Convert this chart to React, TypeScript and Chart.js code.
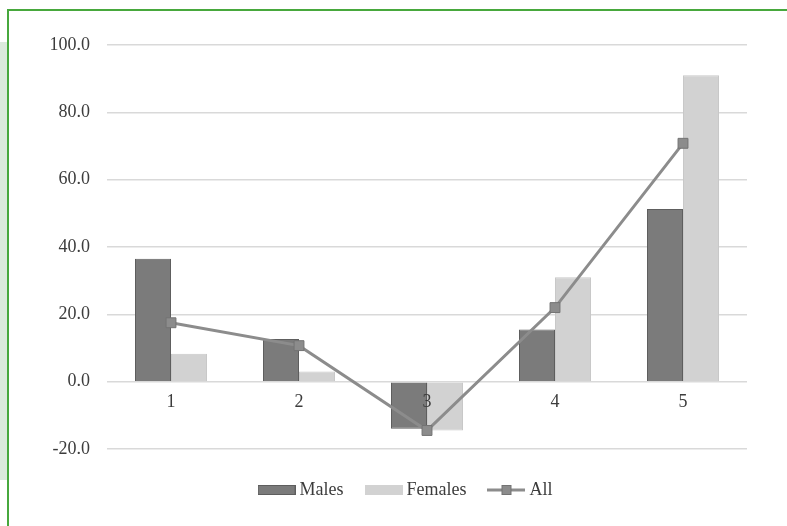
import React, { useEffect, useRef } from "react";
import { Chart, registerables } from "chart.js";

Chart.register(...registerables);

const categories = ["1", "2", "3", "4", "5"];
const males = [36.5, 12.7, -14.0, 15.5, 51.3];
const females = [8.3, 3.0, -14.5, 31.0, 91.0];
const allValues = [17.5, 10.7, -14.5, 22.0, 70.8];
const seriesNames = ["Males", "Females", "All"];
const yMin = -20;
const yMax = 100;
const yStep = 20;

const MALE_COLOR = "#7b7b7b";
const MALE_BORDER = "#5e5e5e";
const FEMALE_COLOR = "#d2d2d2";
const LINE_COLOR = "#8c8c8c";
const MARKER_BORDER = "#737373";
const FONT = "'Liberation Serif', 'Times New Roman', serif";

function makeLegendImage(kind: string): HTMLCanvasElement {
  const c = document.createElement("canvas");
  c.width = 38;
  c.height = 12;
  const g = c.getContext("2d")!;
  if (kind === "male") {
    g.fillStyle = MALE_COLOR;
    g.fillRect(0, 1, 38, 10);
    g.strokeStyle = MALE_BORDER;
    g.lineWidth = 1;
    g.strokeRect(0.5, 1.5, 37, 9);
  } else if (kind === "female") {
    g.fillStyle = FEMALE_COLOR;
    g.fillRect(0, 1, 38, 10);
  } else {
    g.strokeStyle = LINE_COLOR;
    g.lineWidth = 3;
    g.beginPath();
    g.moveTo(0, 6);
    g.lineTo(38, 6);
    g.stroke();
    g.fillStyle = LINE_COLOR;
    g.fillRect(14.5, 1.5, 9, 9);
    g.strokeStyle = MARKER_BORDER;
    g.lineWidth = 1;
    g.strokeRect(14.5, 1.5, 9, 9);
  }
  return c;
}

export default function App() {
  const ref = useRef<HTMLCanvasElement>(null);

  useEffect(() => {
    if (!ref.current) return;
    const imgs = [makeLegendImage("male"), makeLegendImage("female"), makeLegendImage("all")];
    const chart = new Chart(ref.current, {
      type: "bar",
      data: {
        labels: categories,
        datasets: [
          {
            type: "bar",
            label: seriesNames[0],
            data: males,
            backgroundColor: MALE_COLOR,
            borderColor: MALE_BORDER,
            borderWidth: 1,
            order: 1,
          },
          {
            type: "bar",
            label: seriesNames[1],
            data: females,
            backgroundColor: FEMALE_COLOR,
            borderColor: "#c8c8c8",
            borderWidth: 1,
            order: 1,
          },
          {
            type: "line",
            label: seriesNames[2],
            data: allValues,
            borderColor: LINE_COLOR,
            backgroundColor: LINE_COLOR,
            borderWidth: 3,
            pointStyle: "rect",
            pointRadius: 7,
            pointBorderWidth: 1,
            pointBorderColor: MARKER_BORDER,
            pointBackgroundColor: LINE_COLOR,
            tension: 0,
            order: 0,
          } as any,
        ],
      },
      options: {
        animation: false,
        responsive: false,
        maintainAspectRatio: false,
        layout: { padding: { left: 0, right: 40, top: 45, bottom: 23 } },
        datasets: {
          bar: { barPercentage: 1, categoryPercentage: 0.5625 },
        } as any,
        plugins: {
          tooltip: { enabled: false },
          legend: {
            position: "bottom",
            labels: {
              usePointStyle: true,
              pointStyleWidth: 28,
              padding: 26,
              color: "#3c3c3c",
              font: { family: FONT, size: 18 },
              generateLabels: () =>
                seriesNames.map((name, i) => ({
                  text: name,
                  pointStyle: imgs[i] as any,
                  fillStyle: "transparent",
                  strokeStyle: "transparent",
                  lineWidth: 0,
                  hidden: false,
                  datasetIndex: i,
                  fontColor: "#3c3c3c",
                })),
            },
          },
        },
        scales: {
          x: {
            position: { y: 0 } as any,
            grid: { display: false, drawTicks: false },
            border: { display: false },
            ticks: {
              z: 1,
              color: "#3c3c3c",
              font: { family: FONT, size: 18 },
              padding: 10,
            },
          },
          y: {
            min: yMin,
            max: yMax,
            grid: { color: "#d9d9d9", lineWidth: 1.5, drawTicks: false },
            border: { display: false },
            ticks: {
              stepSize: yStep,
              color: "#3c3c3c",
              font: { family: FONT, size: 18 },
              padding: 17,
              callback: (v: any) => Number(v).toFixed(1),
            },
            afterFit: (scale: any) => {
              scale.width = 107;
            },
          },
        },
      },
    });
    // shift the legend to match the reference placement
    const leg: any = (chart as any).legend;
    if (leg) {
      const origDraw = leg.draw.bind(leg);
      leg.draw = function () {
        const ctx = chart.ctx;
        ctx.save();
        ctx.translate(34, 6);
        origDraw();
        ctx.restore();
      };
      chart.draw();
    }
    return () => chart.destroy();
  }, []);

  return (
    <div
      style={{
        position: "absolute",
        left: 0,
        top: 0,
        width: 787,
        height: 526,
        overflow: "hidden",
        background: "#ffffff",
      }}
    >
      <div style={{ position: "absolute", left: 0, top: 42, width: 7, height: 438, background: "#dbeadc" }} />
      <div style={{ position: "absolute", left: 7, top: 9, width: 780, height: 2, background: "#47a83d" }} />
      <div style={{ position: "absolute", left: 7, top: 9, width: 2, height: 517, background: "#47a83d" }} />
      <canvas
        ref={ref}
        width={787}
        height={526}
        style={{ position: "absolute", left: 0, top: 0, width: 787, height: 526 }}
      />
    </div>
  );
}
